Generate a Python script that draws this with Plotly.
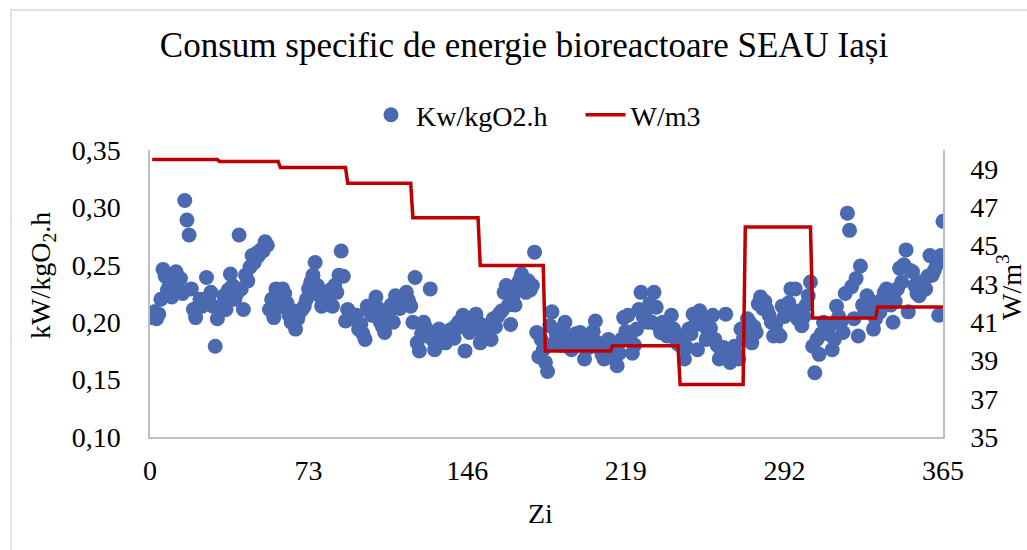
import numpy as np
import plotly.graph_objects as go

# ---------------- data ----------------
days = list(range(1, 366))

kw_kgo2h = [
    0.204, 0.209, 0.203, 0.207, 0.220, 0.246, 0.240, 0.228, 0.233, 0.222,
    0.235, 0.244, 0.229, 0.238, 0.225, 0.306, 0.289, 0.276, 0.229, 0.211,
    0.204, 0.213, 0.220, 0.214, 0.218, 0.239, 0.222, 0.226, 0.214, 0.179,
    0.203, 0.209, 0.214, 0.223, 0.211, 0.228, 0.242, 0.232, 0.220, 0.225,
    0.276, 0.229, 0.211, 0.241, 0.236, 0.248, 0.258, 0.252, 0.260, 0.258,
    0.263, 0.262, 0.270, 0.267, 0.211, 0.220, 0.204, 0.229, 0.213, 0.220,
    0.229, 0.225, 0.217, 0.206, 0.200, 0.210, 0.194, 0.203, 0.209, 0.211,
    0.214, 0.220, 0.229, 0.235, 0.241, 0.252, 0.232, 0.223, 0.214, 0.218,
    0.226, 0.220, 0.228, 0.214, 0.232, 0.226, 0.241, 0.262, 0.240, 0.201,
    0.211, 0.208, 0.205, 0.203, 0.206, 0.194, 0.198, 0.190, 0.185, 0.214,
    0.210, 0.206, 0.206, 0.222, 0.212, 0.200, 0.196, 0.191, 0.203, 0.209,
    0.215, 0.200, 0.223, 0.219, 0.212, 0.217, 0.222, 0.226, 0.219, 0.214,
    0.200, 0.239, 0.182, 0.175, 0.190, 0.200, 0.195, 0.188, 0.229, 0.185,
    0.176, 0.183, 0.194, 0.186, 0.190, 0.182, 0.188, 0.193, 0.194, 0.186,
    0.197, 0.200, 0.196, 0.206, 0.175, 0.195, 0.191, 0.198, 0.203, 0.207,
    0.200, 0.182, 0.190, 0.197, 0.192, 0.188, 0.185, 0.203, 0.196, 0.205,
    0.208, 0.210, 0.226, 0.232, 0.215, 0.198, 0.222, 0.215, 0.228, 0.236,
    0.242, 0.230, 0.226, 0.236, 0.228, 0.232, 0.261, 0.191, 0.170, 0.185,
    0.176, 0.165, 0.157, 0.197, 0.209, 0.182, 0.190, 0.185, 0.180, 0.195,
    0.200, 0.179, 0.185, 0.176, 0.180, 0.190, 0.183, 0.191, 0.180, 0.168,
    0.185, 0.178, 0.188, 0.192, 0.201, 0.182, 0.178, 0.172, 0.168, 0.180,
    0.185, 0.178, 0.175, 0.168, 0.162, 0.173, 0.185, 0.204, 0.192, 0.206,
    0.188, 0.173, 0.180, 0.194, 0.211, 0.226, 0.205, 0.209, 0.200, 0.216,
    0.200, 0.226, 0.213, 0.197, 0.191, 0.200, 0.193, 0.188, 0.196, 0.206,
    0.194, 0.185, 0.181, 0.180, 0.188, 0.168, 0.178, 0.194, 0.190, 0.207,
    0.198, 0.176, 0.210, 0.200, 0.197, 0.185, 0.190, 0.195, 0.206, 0.185,
    0.180, 0.168, 0.175, 0.178, 0.207, 0.173, 0.165, 0.170, 0.179, 0.172,
    0.168, 0.194, 0.185, 0.195, 0.203, 0.200, 0.182, 0.196, 0.191, 0.216,
    0.222, 0.212, 0.218, 0.211, 0.206, 0.200, 0.188, 0.198, 0.190, 0.188,
    0.214, 0.205, 0.209, 0.217, 0.229, 0.210, 0.229, 0.203, 0.210, 0.197,
    0.205, 0.215, 0.223, 0.235, 0.179, 0.156, 0.185, 0.172, 0.190, 0.200,
    0.196, 0.190, 0.197, 0.176, 0.185, 0.214, 0.205, 0.200, 0.191, 0.225,
    0.295, 0.280, 0.231, 0.203, 0.238, 0.188, 0.249, 0.215, 0.209, 0.223,
    0.212, 0.218, 0.194, 0.203, 0.215, 0.209, 0.220, 0.226, 0.229, 0.222,
    0.215, 0.200, 0.218, 0.229, 0.247, 0.235, 0.250, 0.263, 0.209, 0.245,
    0.244, 0.232, 0.225, 0.223, 0.235, 0.228, 0.229, 0.240, 0.258, 0.241,
    0.245, 0.250, 0.206, 0.258, 0.288,
]

# monthly W/m3 values (constant within each month)
month_lengths = [31, 28, 31, 30, 31, 30, 31, 31, 30, 31, 30, 31]
w_m3_monthly = [49.50, 49.40, 49.08, 48.26, 46.46, 43.96,
                39.50, 39.77, 37.75, 45.97, 41.22, 41.80]
w_m3 = list(np.repeat(w_m3_monthly, month_lengths))

x_ticks = [0, 73, 146, 219, 292, 365]
y_ticks = [0.10, 0.15, 0.20, 0.25, 0.30, 0.35]
y2_ticks = [35, 37, 39, 41, 43, 45, 47, 49]

# ---------------- figure ----------------
FONT = "Liberation Serif, 'Times New Roman', Times, serif"
W, H = 1027, 550
L, R, T, B = 150, 84, 150, 113
pw, ph = W - L - R, H - T - B


def px_x(px):
    return (px - L) / pw


def px_y(py):
    return (H - B - py) / ph


fig = go.Figure()
fig.add_trace(go.Scatter(
    x=days, y=kw_kgo2h, mode="markers",
    name="Kw/kgO2.h\u00a0\u00a0\u00a0\u00a0",
    marker=dict(size=15, color="#4A69B0", line=dict(width=0)),
    yaxis="y",
))
fig.add_trace(go.Scatter(
    x=days, y=w_m3, mode="lines", name="W/m3",
    line=dict(color="#C00000", width=3.5),
    yaxis="y2",
))

axis_line = dict(showline=True, linecolor="#BFBFBF", linewidth=1.5,
                 showgrid=False, zeroline=False, ticks="")
tick_font = dict(family=FONT, size=28, color="#000000")

fig.update_layout(
    width=W, height=H,
    margin=dict(l=L, r=R, t=T, b=B),
    paper_bgcolor="white", plot_bgcolor="white",
    separators=", ",
    font=dict(family=FONT, size=28, color="#000000"),
    title=dict(text="Consum specific de energie bioreactoare SEAU Iași",
               font=dict(family=FONT, size=35, color="#000000"),
               x=524 / W, xanchor="center", xref="container",
               y=1 - 45 / H, yanchor="middle", yref="container"),
    showlegend=True,
    legend=dict(orientation="h", x=px_x(536), xanchor="center",
                y=px_y(115), yanchor="middle",
                font=dict(family=FONT, size=28, color="#000000"),
                bgcolor="rgba(0,0,0,0)", itemwidth=40),
    xaxis=dict(range=[0, 365], tickvals=x_ticks, ticklabelstandoff=8,
               tickfont=tick_font, **axis_line),
    yaxis=dict(range=[0.10, 0.35], tickvals=y_ticks, tickformat=".2f",
               ticklabelstandoff=22, tickfont=tick_font, **axis_line),
    yaxis2=dict(range=[35, 50], tickvals=y2_ticks, overlaying="y",
                side="right", ticklabelstandoff=20, tickfont=tick_font,
                **axis_line),
    annotations=[
        dict(text="kW/kgO<sub>2</sub>.h", textangle=-90, showarrow=False,
             xref="paper", yref="paper", x=px_x(42), y=px_y(275),
             xanchor="center", yanchor="middle",
             font=dict(family=FONT, size=28, color="#000000")),
        dict(text="W/m<sup>3</sup>", textangle=-90, showarrow=False,
             xref="paper", yref="paper", x=px_x(1009), y=px_y(287),
             xanchor="center", yanchor="middle",
             font=dict(family=FONT, size=28, color="#000000")),
        dict(text="Zi", showarrow=False,
             xref="paper", yref="paper", x=px_x(540), y=px_y(513),
             xanchor="center", yanchor="middle",
             font=dict(family=FONT, size=28, color="#000000")),
    ],
    shapes=[
        dict(type="rect", xref="paper", yref="paper",
             x0=px_x(11), x1=px_x(1040), y0=px_y(560), y1=px_y(10),
             line=dict(color="#D9D9D9", width=1.5), fillcolor="rgba(0,0,0,0)",
             layer="below"),
    ],
)

fig.write_html("out.html")
